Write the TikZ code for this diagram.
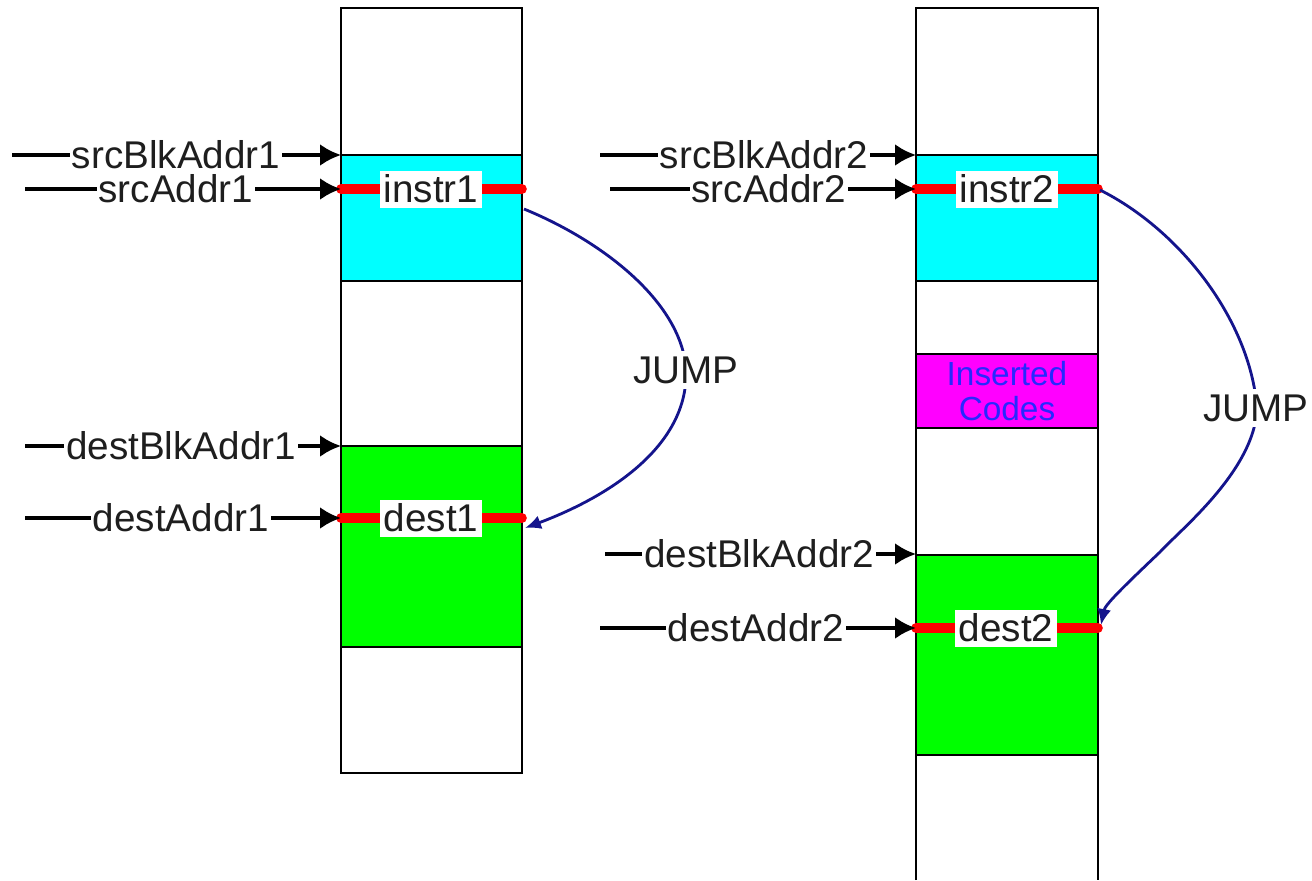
\documentclass[tikz,border=0pt]{standalone}
\usepackage{fontspec}
\setmainfont{Liberation Sans}
\usetikzlibrary{arrows.meta}
\definecolor{jumpblue}{RGB}{20,20,140}
\definecolor{labelgray}{RGB}{30,30,30}
\definecolor{srccyan}{RGB}{0,255,255}
\definecolor{destgreen}{RGB}{0,255,0}
\definecolor{insmagenta}{RGB}{255,0,255}
\definecolor{insblue}{RGB}{40,40,255}
\tikzset{x=0.02cm, y=-0.02cm,
  column/.style={draw=black, line width=1.4pt},
  block/.style={draw=black, line width=0.8pt},
  addr/.style={fill=white, inner xsep=1pt, inner ysep=0pt, text=labelgray,
    font=\fontsize{22pt}{26pt}\selectfont},
  instr/.style={fill=white, inner xsep=2pt, inner ysep=0pt,
    minimum height=0.74cm, text=labelgray,
    font=\fontsize{22pt}{26pt}\selectfont},
  jumplbl/.style={fill=white, inner sep=3pt, text=labelgray,
    font=\fontsize{22pt}{26pt}\selectfont},
  inserted/.style={align=center, text=insblue, inner sep=0pt,
    font=\fontsize{19pt}{20pt}\selectfont},
  pointer/.style={-{Latex[length=0.42cm,width=0.44cm]}, line width=2pt},
  marker/.style={red, line width=5.5pt, line cap=round},
  jump/.style={jumpblue, line width=1.6pt, -{Latex[length=0.32cm,width=0.28cm]}}
}

\begin{document}
\begin{tikzpicture}
    \useasboundingbox (0,0) rectangle (1312,880);
    % left column
    \draw[block, fill=srccyan] (341,155) rectangle (522,281);
    \draw[block, fill=destgreen] (341,446) rectangle (522,647);
    \draw[column] (341,8) rectangle (522,773);
    % right column
    \draw[block, fill=srccyan] (916,155) rectangle (1098,281);
    \draw[block, fill=insmagenta] (916,354) rectangle (1098,428);
    \draw[block, fill=destgreen] (916,555) rectangle (1098,755);
    \draw[column] (916,880) -- (916,8) -- (1098,8) -- (1098,880);
    \coordinate (sb1) at (341,155);
    \coordinate (i1l) at (341,189);
    \coordinate (i1r) at (522,189);
    \coordinate (db1) at (341,446);
    \coordinate (d1l) at (341,518);
    \coordinate (d1r) at (522,518);
    \coordinate (sb2) at (916,155);
    \coordinate (i2l) at (916,189);
    \coordinate (i2r) at (1098,189);
    \coordinate (db2) at (916,554);
    \coordinate (d2l) at (916,628);
    \coordinate (d2r) at (1098,628);
    \coordinate (psb1) at (12,155);
    \coordinate (pi1) at (25,189);
    \coordinate (pdb1) at (25,446);
    \coordinate (pd1) at (25,518);
    \coordinate (psb2) at (600,155);
    \coordinate (pi2) at (610,189);
    \coordinate (pdb2) at (605,554);
    \coordinate (pd2) at (600,628);
    \coordinate (j1s) at (524,209);
    \coordinate (j1e) at (525,528);
    \coordinate (j2s) at (1100,190);
    \coordinate (j2e) at (1101,625);
    % red markers and their boxes
    \draw[marker] (i1l) -- (i1r);
    \draw[marker] (d1l) -- (d1r);
    \draw[marker] (i2l) -- (i2r);
    \draw[marker] (d2l) -- (d2r);
    \draw (431,189) node[instr] (instr1) {instr1};
    \draw (431,518) node[instr] (dest1) {dest1};
    \draw (1007,189) node[instr] (instr2) {instr2};
    \draw (1006,628) node[instr] (dest2) {dest2};
    \draw (1007,391) node[inserted] (ins) {Inserted\\Codes};
    % pointers
    \draw[pointer] (psb1) -- (sb1);
    \draw[pointer] (pi1) -- (i1l);
    \draw[pointer] (pdb1) -- (db1);
    \draw[pointer] (pd1) -- (d1l);
    \draw[pointer] (psb2) -- (sb2);
    \draw[pointer] (pi2) -- (i2l);
    \draw[pointer] (pdb2) -- (db2);
    \draw[pointer] (pd2) -- (d2l);
    \draw (176,155) node[addr] (lsb1) {srcBlkAddr1};
    \draw (176,189) node[addr] (li1) {srcAddr1};
    \draw (181,446) node[addr] (ldb1) {destBlkAddr1};
    \draw (181,518) node[addr] (ld1) {destAddr1};
    \draw (764,155) node[addr] (lsb2) {srcBlkAddr2};
    \draw (769,189) node[addr] (li2) {srcAddr2};
    \draw (759,554) node[addr] (ldb2) {destBlkAddr2};
    \draw (756,628) node[addr] (ld2) {destAddr2};
    % jumps
    \draw[jump] (j1s) .. controls (600,240) and (680,300) .. (686,368)
      .. controls (690,450) and (600,500) .. (j1e);
    \draw (686,370) node[jumplbl] (jump1) {JUMP};
    \draw[jump] (j2s) .. controls (1180,230) and (1250,320) .. (1257,408)
      .. controls (1255,470) and (1180,530) .. (1160,552)
      .. controls (1120,590) and (1105,605) .. (j2e);
    \draw (1256,408) node[jumplbl] (jump2) {JUMP};
\end{tikzpicture}
\end{document}
